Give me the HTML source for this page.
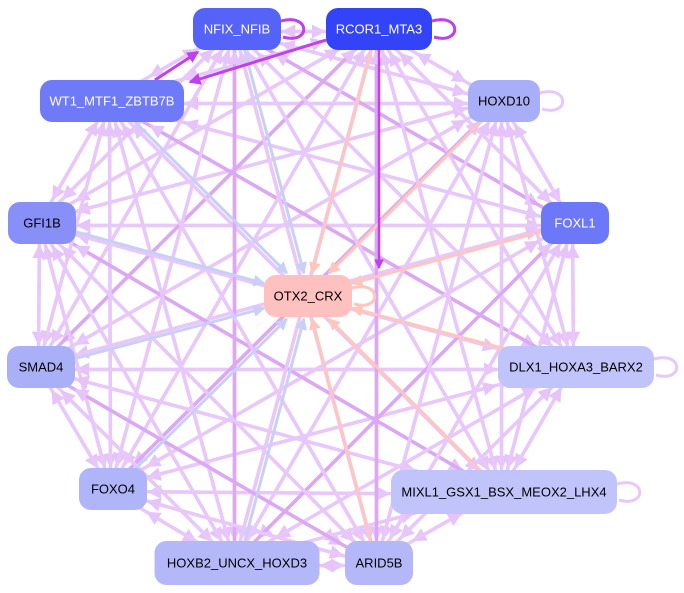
<!DOCTYPE html>
<html><head><meta charset="utf-8"><style>
html,body{margin:0;padding:0;background:#fff;width:684px;height:593px;overflow:hidden}
svg{display:block}
text{font-family:"Liberation Sans",sans-serif;font-size:13px;text-anchor:middle;dominant-baseline:central}
</style></head><body>
<svg id="s" width="684" height="593" viewBox="0 0 684 593">
<defs>
<marker id="a" markerWidth="4" markerHeight="4" refX="3.5" refY="2" orient="auto" markerUnits="strokeWidth"><path d="M0,0L4,2L0,4z" fill="#e6c4fa"/></marker>
<marker id="b" markerWidth="4" markerHeight="4" refX="3.5" refY="2" orient="auto" markerUnits="strokeWidth"><path d="M0,0L4,2L0,4z" fill="#c8d0f6"/></marker>
<marker id="c" markerWidth="4" markerHeight="4" refX="3.5" refY="2" orient="auto" markerUnits="strokeWidth"><path d="M0,0L4,2L0,4z" fill="#ffc6be"/></marker>
<marker id="d" markerWidth="4" markerHeight="4" refX="3.5" refY="2" orient="auto" markerUnits="strokeWidth"><path d="M0,0L4,2L0,4z" fill="#c040f0"/></marker>
</defs>
<g id="e"></g>
<g id="n"></g>
</svg>
<script>
var N=[["NFIX_NFIB",237,29,88,42,"#5563f8","#fff"],["RCOR1_MTA3",379,29,106,42,"#3344f8","#fff"],
["WT1_MTF1_ZBTB7B",112,101,144,42,"#6f7af8","#fff"],["HOXD10",504,101,72,42,"#a8aef8","#000"],
["GFI1B",42,223,68,42,"#8890f8","#000"],["FOXL1",575,223,68,42,"#6d78f8","#fff"],
["SMAD4",41,367,68,42,"#aab0f8","#000"],["DLX1_HOXA3_BARX2",576,367,156,42,"#c0c4fa","#000"],
["FOXO4",113,489,68,42,"#b0b4f8","#000"],["MIXL1_GSX1_BSX_MEOX2_LHX4",504,492,226,44,"#c0c4fa","#000"],
["HOXB2_UNCX_HOXD3",237,563,165,44,"#b4b8f8","#000"],["ARID5B",379,563,68,44,"#b4b8f8","#000"],
["OTX2_CRX",308,296,88,42,"#ffc0c0","#000"]];
var E=document.getElementById("e"),G=document.getElementById("n"),ns="http://www.w3.org/2000/svg";
function ln(x1,y1,x2,y2,col,m,w){var l=document.createElementNS(ns,"line");l.setAttribute("x1",x1);l.setAttribute("y1",y1);l.setAttribute("x2",x2);l.setAttribute("y2",y2);l.setAttribute("stroke",col);l.setAttribute("stroke-width",w);l.setAttribute("marker-end","url(#"+m+")");E.appendChild(l);}
function clip(a,b){var dx=b[1]-a[1],dy=b[2]-a[2];var t=Math.min(Math.abs((b[3]/2+2)/(dx||1e-9)),Math.abs((b[4]/2+2)/(dy||1e-9)));return [b[1]-dx*t,b[2]-dy*t];}
for(var i=0;i<12;i++)for(var j=0;j<12;j++){if(i==j)continue;var a=N[i],b=N[j];var off=(i<j?2.5:-2.5);var dx=b[1]-a[1],dy=b[2]-a[2],L=Math.hypot(dx,dy);var ox=-dy/L*off,oy=dx/L*off;
var p=clip(a,b);var col=((i*7+j*3)%5==0)?"#dca8f4":"#e8c8fa";ln(a[1]+ox,a[2]+oy,p[0]+ox,p[1]+oy,col,"a",3.5);}
var O=N[12];
for(var i=0;i<12;i++){var a=N[i],p=clip(a,O);var blue=(i%2==0);ln(a[1]+(blue?2:-2),a[2],p[0]+(blue?2:-2),p[1],blue?"#c8d0f6":"#ffc6be",blue?"b":"c",3);}
ln(379,50,379,268,"#c040f0","d",2.5);ln(326,40,190,82,"#c040f0","d",3);ln(155,80,198,52,"#c040f0","d",3);
for(var i=0;i<13;i++){var a=N[i];var r=document.createElementNS(ns,"rect");r.setAttribute("x",a[1]-a[3]/2);r.setAttribute("y",a[2]-a[4]/2);r.setAttribute("width",a[3]);r.setAttribute("height",a[4]);r.setAttribute("rx",12);r.setAttribute("fill",a[5]);G.appendChild(r);
var t=document.createElementNS(ns,"text");t.setAttribute("x",a[1]);t.setAttribute("y",a[2]);t.setAttribute("fill",a[6]);t.textContent=a[0];G.appendChild(t);}
function loop(x,y,col){var p=document.createElementNS(ns,"path");p.setAttribute("d","M"+x+","+(y-8)+" C"+(x+30)+","+(y-16)+" "+(x+30)+","+(y+16)+" "+(x+2)+","+(y+8));p.setAttribute("fill","none");p.setAttribute("stroke",col);p.setAttribute("stroke-width",3);G.appendChild(p);}
loop(281,29,"#c040f0");loop(432,29,"#c040f0");loop(540,101,"#e8c8fa");loop(654,367,"#e8c8fa");loop(617,492,"#e8c8fa");loop(352,296,"#ffc6be");
</script>
</body></html>
